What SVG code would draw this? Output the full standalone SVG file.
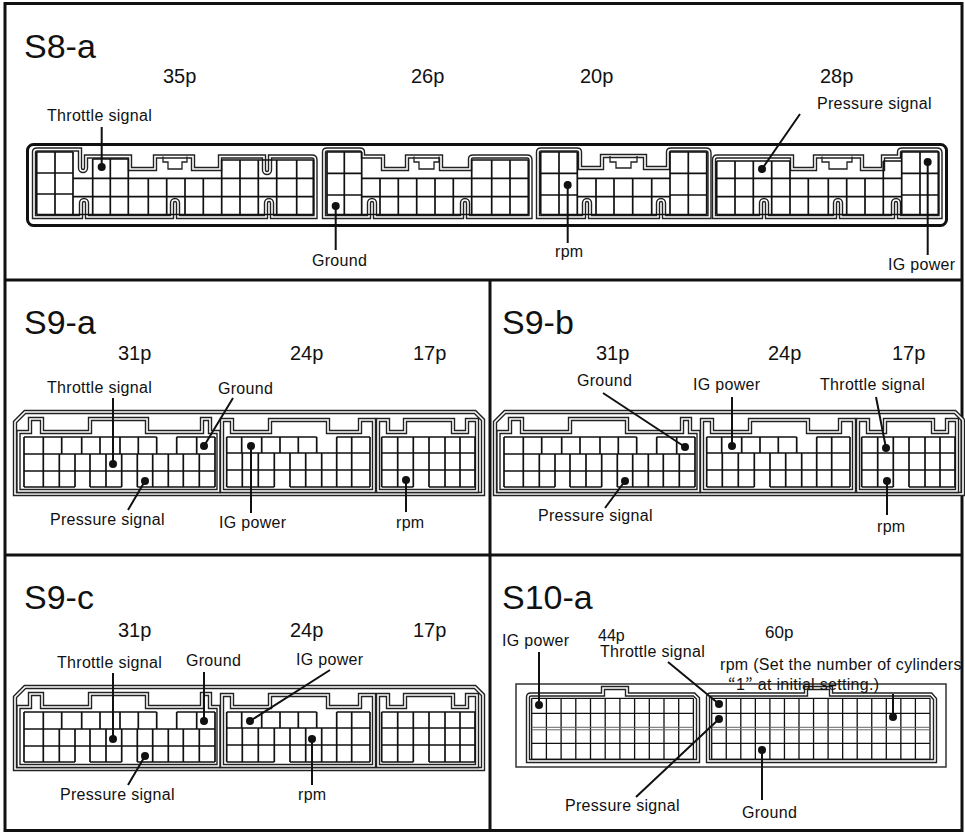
<svg xmlns="http://www.w3.org/2000/svg" xmlns:xlink="http://www.w3.org/1999/xlink" width="965" height="834" viewBox="0 0 965 834">
<style>
text{font-family:"Liberation Sans",Arial,sans-serif;fill:#111}
.t{font-size:34px}
.p{font-size:20px}
.l{font-size:16px;letter-spacing:0.3px}
.q{font-family:"Noto Sans CJK JP","Liberation Sans",sans-serif}
.fr{fill:none;stroke:#111;stroke-width:3}
.ol{fill:none;stroke:#222;stroke-width:4.4;stroke-linejoin:miter}
.oi{fill:none;stroke:#fff;stroke-width:1.6}
.g{fill:none;stroke:#111;stroke-width:1.7}
.g2{fill:none;stroke:#111;stroke-width:1.3}
.lt{fill:none;stroke:#222;stroke-width:1.3}
.ld{fill:none;stroke:#111;stroke-width:2}
.dot{fill:#111}
</style>
<defs>
<g id="s9conn">
<path id="s9shell" d="M15 422 L25 412 H475 L483 420 V494 H15 Z"/>
<path id="s9h1" d="M18.5 491 V432 H30 V419 H42 V432 H90 V419 H147 V432 H202 V419 H210 V432 H218.5 V491 Z"/>
<path id="s9h2" d="M222 491 V420 H232 V432 H270 V420 H328 V432 H360 V420 H374 V491 Z"/>
<path id="s9h3" d="M378 491 V420 H388 V432 H405 V420 H453 V432 H467 V420 H477 V491 Z"/>
</g>
<g id="s9body">
<use xlink:href="#s9shell" class="ol"/><use xlink:href="#s9shell" class="oi"/>
<use xlink:href="#s9h1" class="ol"/><use xlink:href="#s9h1" class="oi"/>
<use xlink:href="#s9h2" class="ol"/><use xlink:href="#s9h2" class="oi"/>
<use xlink:href="#s9h3" class="ol"/><use xlink:href="#s9h3" class="oi"/>
<path class="g" d="M24 437H156.7M176.7 437H215M24 454H215M24 471H215M24 487H75M90 487H121.7M137.3 487H215
M24 437V487M43.3 437V487M61.7 437V454M81.7 437V454M100 437V454M120 437V454M138.3 437V454M156.7 437V454M176.7 437V454M196.7 437V454M215 437V487
M59.3 454V487M75 454V487M90 454V487M106 454V487M121.7 454V487M137.3 454V487M152.7 454V487M168.3 454V487M183.3 454V487M199.3 454V487"/>
<path class="g" d="M226.7 437H316.7M336.7 437H370M226.7 453H370M226.7 470H370M226.7 487H274.3M290 487H370
M226.7 437V487M241.7 437V453M261.7 437V453M280 437V453M298.3 437V453M316.7 437V453M336.7 437V487
M242.3 453V487M258.3 453V487M274.3 453V487M290 453V487M305.7 453V487M321.7 453V487M351.7 437V487M370 437V487"/>
<path class="g" d="M381.7 437H475M381.7 453H475M381.7 470H475M381.7 487H413.3M429 487H475
M381.7 437V487M397.7 437V487M413.3 437V487M429 437V487M445 437V487M460 437V487M475 437V487"/>
</g>
<path id="s8h1" d="M34 152 Q34 149.5 37 149.5 H80 V168 a3 3 0 0 0 6 0 V156.5 H130 V169 H155 V156.5 H193 V169 H220 V156.5 H264 V170 a3 3 0 0 0 6 0 V156.5 H312 Q315.5 156.5 315.5 160 V217 H272 V203 a3 3 0 0 0 -6 0 V217 H178 V203 a3 3 0 0 0 -6 0 V217 H87 V203 a3 3 0 0 0 -6 0 V217 H34 Z"/>
<path id="s8h2" d="M324 152 Q324 149.5 327 149.5 H360 Q363 149.5 363 152 V156.5 H383 V169 H407 V156.5 H441 V169 H470 V159 Q470 156.5 473 156.5 H527 Q530.5 156.5 530.5 160 V217 H468 V203 a3 3 0 0 0 -6 0 V217 H375 V203 a3 3 0 0 0 -6 0 V217 H324 Z"/>
<path id="s8h3" d="M538 152 Q538 149.5 541 149.5 H577 Q580 149.5 580 152 V168 H602 V156 H645 V168 H668 V152 Q668 149.5 671 149.5 H706 Q709.5 149.5 709.5 153 V217 H664 V203 a3 3 0 0 0 -6 0 V217 H590 V203 a3 3 0 0 0 -6 0 V217 H538 Z"/>
<path id="s8h4" d="M714 160 Q714 156.5 717 156.5 H792 V169 H815 V156.5 H862 V169 H883 V156.5 H899 V152 Q899 149.5 902 149.5 H937 Q940.5 149.5 940.5 153 V217 H899 V203 a3 3 0 0 0 -6 0 V217 H841 V203 a3 3 0 0 0 -6 0 V217 H767 V203 a3 3 0 0 0 -6 0 V217 H714 Z"/>
<path id="s10h1" d="M528 761 V697 Q528 694.5 531 694.5 H603 V688 H627 V694.5 H694 L698 698.5 V761 Z"/>
<path id="s10h2" d="M708 761 V697 Q708 694.5 711 694.5 H806 V688 H831 V694.5 H931 L935 699 V761 Z"/>
</defs>

<g id="frame">
<rect class="fr" x="5" y="3.5" width="957" height="827"/>
<path class="fr" d="M5 280 H962 M490 280 V830 M5 555 H962"/>
</g>

<g id="S8-a">
<text class="t" x="24" y="58">S8-a</text>
<text class="p" x="163" y="83">35p</text>
<text class="p" x="411" y="83">26p</text>
<text class="p" x="580" y="83">20p</text>
<text class="p" x="820" y="83">28p</text>
<rect x="27.5" y="144.5" width="919" height="81" rx="6" fill="#fff" stroke="#111" stroke-width="3"/>
<use xlink:href="#s8h1" class="ol"/><use xlink:href="#s8h1" class="oi"/>
<use xlink:href="#s8h2" class="ol"/><use xlink:href="#s8h2" class="oi"/>
<use xlink:href="#s8h3" class="ol"/><use xlink:href="#s8h3" class="oi"/>
<use xlink:href="#s8h4" class="ol"/><use xlink:href="#s8h4" class="oi"/>
<path class="lt" d="M163 156.5 V162 H168 V169 H182 V162 H187 V156.5 M414 156.5 V162 H419 V169 H434 V162 H439 V156.5 M610 156 V162 H616 V168 H631 V162 H637 V156 M822 156.5 V162 H829 V169 H847 V162 H852 V156.5"/>
<path class="g" d="M36.7 152V214.5M55 152V214.5M73 152V214.5M36.7 152H73M36.7 173H73M36.7 194H73M36.7 214.5H73
M92.7 159H128.3M92.7 159V178.3M110.3 159V178.3M128.3 159V178.3
M221.7 160H313.3M221.7 160V178.3M240 160V178.3M258.3 160V178.3M276.7 160V178.3M296.7 160V178.3M313.3 160V178.3
M73 178.3H313.3M73 196.7H313.3M73 214.5H313.3
M92.7 178.3V214.5M110.3 178.3V214.5M128.3 178.3V214.5M148.3 178.3V214.5M166.7 178.3V214.5M185 178.3V214.5M203.3 178.3V214.5M221.7 178.3V214.5M240 178.3V214.5M258.3 178.3V214.5M276.7 178.3V214.5M296.7 178.3V214.5M313.3 178.3V214.5"/>
<path class="g" d="M327 152V214.5M344.3 152V214.5M361.7 152V214.5M327 152H361.7M327 173.3H361.7M327 195H361.7M327 214.5H361.7
M471.7 160H528.3M471.7 160V178.3M491.7 160V178.3M510 160V178.3M528.3 160V178.3
M361.7 178.3H528.3M361.7 196.7H528.3M361.7 214.5H528.3
M380 178.3V214.5M398.3 178.3V214.5M416.7 178.3V214.5M435 178.3V214.5M453.3 178.3V214.5M471.7 178.3V214.5M491.7 178.3V214.5M510 178.3V214.5M528.3 178.3V214.5"/>
<path class="g" d="M540.7 152V214.5M559 152V214.5M577.3 152V214.5M540.7 152H577.3M540.7 173.3H577.3M540.7 195H577.3M540.7 214.5H577.3
M670 152V214.5M688.3 152V214.5M706.7 152V214.5M670 152H706.7M670 173.3H706.7M670 195H706.7M670 214.5H706.7
M577.3 178.3H670M577.3 196.7H670M577.3 214.5H670M596 178.3V214.5M614 178.3V214.5M632.7 178.3V214.5M651.7 178.3V214.5"/>
<path class="g" d="M716.7 161H790M883.3 161H901.7
M716.7 161V214.5M735 161V214.5M753.3 161V214.5M771.7 161V214.5M790 161V214.5M808.3 178.3V214.5M828.3 178.3V214.5M846.7 178.3V214.5M865 178.3V214.5M883.3 161V214.5
M716.7 178.3H901.7M716.7 196.7H901.7M716.7 214.5H901.7
M901.7 152V214.5M920 152V214.5M938.3 152V214.5M901.7 152H938.3M901.7 173.3H938.3M901.7 195H938.3M901.7 214.5H938.3"/>
<text class="l" x="47" y="121">Throttle signal</text>
<text class="l" x="817" y="109">Pressure signal</text>
<text class="l" x="312" y="266">Ground</text>
<text class="l" x="555" y="257">rpm</text>
<text class="l" x="888" y="270">IG power</text>
</g>

<g id="S9-a">
<text class="t" x="24" y="334">S9-a</text>
<text class="p" x="118" y="360">31p</text>
<text class="p" x="290" y="360">24p</text>
<text class="p" x="413" y="360">17p</text>
<use xlink:href="#s9body"/>
<text class="l" x="47" y="393">Throttle signal</text>
<text class="l" x="218" y="394">Ground</text>
<text class="l" x="50" y="525">Pressure signal</text>
<text class="l" x="219" y="528">IG power</text>
<text class="l" x="396" y="528">rpm</text>
</g>

<g id="S9-b">
<text class="t" x="502" y="334">S9-b</text>
<text class="p" x="596" y="360">31p</text>
<text class="p" x="768" y="360">24p</text>
<text class="p" x="892" y="360">17p</text>
<use xlink:href="#s9body" transform="translate(480 0)"/>
<text class="l" x="577" y="386">Ground</text>
<text class="l" x="693" y="390">IG power</text>
<text class="l" x="820" y="390">Throttle signal</text>
<text class="l" x="538" y="521">Pressure signal</text>
<text class="l" x="877" y="532">rpm</text>
</g>

<g id="S9-c">
<text class="t" x="24" y="609">S9-c</text>
<text class="p" x="118" y="637">31p</text>
<text class="p" x="290" y="637">24p</text>
<text class="p" x="413" y="637">17p</text>
<use xlink:href="#s9body" transform="translate(0 275)"/>
<text class="l" x="57" y="668">Throttle signal</text>
<text class="l" x="186" y="666">Ground</text>
<text class="l" x="296" y="665">IG power</text>
<text class="l" x="60" y="800">Pressure signal</text>
<text class="l" x="298" y="800">rpm</text>
</g>

<g id="S10-a">
<text class="t" x="502" y="609">S10-a</text>
<text class="p" x="598" y="641" style="font-size:16px">44p</text>
<text class="p" x="765" y="638" style="font-size:17px">60p</text>
<rect x="516" y="684" width="430" height="83" fill="none" stroke="#333" stroke-width="1.5"/>
<use xlink:href="#s10h1" class="ol"/><use xlink:href="#s10h1" class="oi"/>
<use xlink:href="#s10h2" class="ol"/><use xlink:href="#s10h2" class="oi"/>
<path class="g2" d="M531.7 698.3H693.4M531.7 713.3H693.4M531.7 743.3H693.4M531.7 759.3H693.4
M531.7 698.3V759.3M546.4 698.3V759.3M561.1 698.3V759.3M575.8 698.3V759.3M590.5 698.3V759.3M605.2 698.3V759.3M619.9 698.3V759.3M634.6 698.3V759.3M649.3 698.3V759.3M664 698.3V759.3M678.7 698.3V759.3M693.4 698.3V759.3"/>
<path class="g2" d="M711.7 698.3H930M711.7 713.3H930M711.7 743.3H930M711.7 759.3H930
M711.7 698.3V759.3M726.25 698.3V759.3M740.8 698.3V759.3M755.35 698.3V759.3M769.9 698.3V759.3M784.45 698.3V759.3M799 698.3V759.3M813.55 698.3V759.3M828.1 698.3V759.3M842.65 698.3V759.3M857.2 698.3V759.3M871.75 698.3V759.3M886.3 698.3V759.3M900.85 698.3V759.3M915.4 698.3V759.3M930 698.3V759.3"/>
<path fill="none" stroke="#666" stroke-width="1" d="M531.7 727.3H693.4M531.7 729.8H693.4M711.7 727.3H930M711.7 729.8H930"/>
<text class="l" x="502" y="646">IG power</text>
<text class="l" x="600" y="657">Throttle signal</text>
<text class="l" x="720" y="670">rpm (Set the number of cylinders</text>
<text class="l" x="728" y="690"><tspan class="q">“</tspan>1<tspan class="q">”</tspan>  at initial setting.)</text>
<text class="l" x="565" y="811">Pressure signal</text>
<text class="l" x="742" y="818">Ground</text>
</g>

<g id="connectors">
<path class="ld" d="M101.7 127V167M800 114L762 169M335.7 206V250M567.7 185V243M927.7 162V255"/>
<path class="ld" d="M113 398V464M233 398L204 446M145 481L128 510M251 446V513M406 480V512"/>
<path class="ld" d="M603 393L685 447M732 397V446M876 397L886 448M625 481L605 508M887 481V515"/>
<path class="ld" d="M113 673V739M204 672V721M330 670L250 721M145 756L128 785M312 739V785"/>
<path class="ld" d="M539 652V705M668 662L719 704M719 719L636 797M893 694V717M762 750V800"/>
<g class="dot">
<circle cx="101.7" cy="167" r="4"/><circle cx="762" cy="169" r="4"/><circle cx="335.7" cy="206" r="4"/><circle cx="567.7" cy="185" r="4"/><circle cx="927.7" cy="162" r="4"/>
<circle cx="113" cy="464" r="4"/><circle cx="204" cy="446" r="4"/><circle cx="145" cy="481" r="4"/><circle cx="251" cy="446" r="4"/><circle cx="406" cy="480" r="4"/>
<circle cx="685" cy="447" r="4"/><circle cx="732" cy="446" r="4"/><circle cx="886" cy="448" r="4"/><circle cx="625" cy="481" r="4"/><circle cx="887" cy="481" r="4"/>
<circle cx="113" cy="739" r="4"/><circle cx="204" cy="721" r="4"/><circle cx="250" cy="721" r="4"/><circle cx="145" cy="756" r="4"/><circle cx="312" cy="739" r="4"/>
<circle cx="539" cy="705" r="4"/><circle cx="719" cy="704" r="4"/><circle cx="719" cy="719" r="4"/><circle cx="893" cy="717" r="4"/><circle cx="762" cy="750" r="4"/>
</g>
</g>
</svg>
